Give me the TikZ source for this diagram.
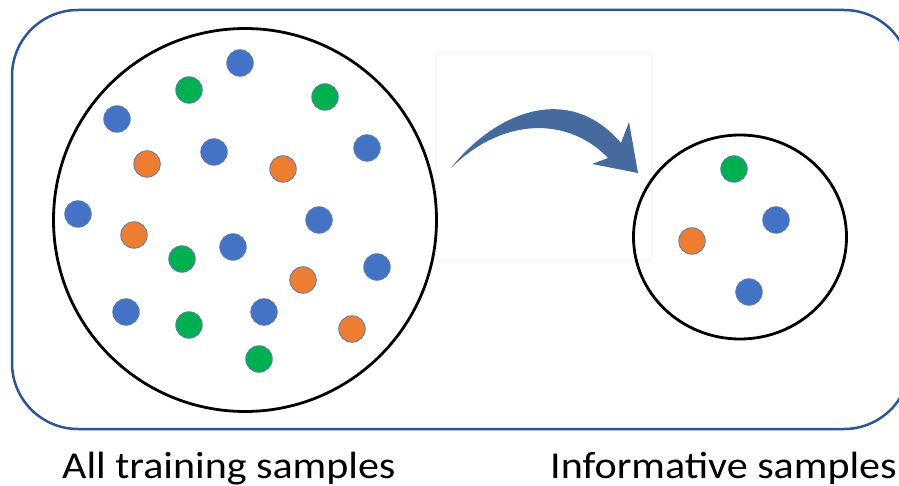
\documentclass[tikz,border=0pt]{standalone}
\usepackage{fontspec}
\setmainfont{Carlito}
\newfontfamily\capfont[FakeStretch=1.107]{Carlito}
\usetikzlibrary{shapes.geometric}
\definecolor{frameblue}{HTML}{2F5597}
\definecolor{dotblue}{HTML}{4472C4}
\definecolor{dotorange}{HTML}{ED7D31}
\definecolor{dotgreen}{HTML}{00B050}
\definecolor{dotedge}{HTML}{5B7BAE}
\definecolor{arrowblue}{HTML}{446A9E}
\definecolor{faintgray}{HTML}{F5F5F5}
\tikzset{
  dot/.style={circle, draw=dotedge, line width=0.8pt, inner sep=0pt, minimum size=26.5pt},
  bdot/.style={dot, fill=dotblue},
  odot/.style={dot, fill=dotorange},
  gdot/.style={dot, fill=dotgreen},
  caption/.style={anchor=base west, font=\capfont\fontsize{38}{42}\selectfont, inner sep=0pt},
}
\begin{document}
\begin{tikzpicture}[x=1pt,y=-1pt]
\useasboundingbox (0,0) rectangle (899,486);
\clip (0,0) rectangle (899,486);
\fill[white] (0,0) rectangle (899,486);
% outer frame
\draw[frameblue, line width=2.5pt, rounded corners=66pt] (12,10) rectangle (910,429);
% faint picture frame behind arrow
\draw[faintgray, line width=0.8pt] (436,52) rectangle (651,260);
% big circle
\node (big) [draw, circle, line width=2.8pt, minimum size=383pt, inner sep=0pt] at (245,220) {};
% small circle
\node (small) [draw, ellipse, line width=2.8pt, minimum width=213pt, minimum height=204pt, inner sep=0pt] at (740,237) {};
% dots in big circle
\node (b1) [bdot] at (240,63) {};
\node (g1) [gdot] at (189,90) {};
\node (g2) [gdot] at (325,97) {};
\node (b2) [bdot] at (117,119) {};
\node (o1) [odot] at (147,164) {};
\node (b3) [bdot] at (214,152) {};
\node (o2) [odot] at (283,169) {};
\node (b4) [bdot] at (367,148) {};
\node (b5) [bdot] at (78,214) {};
\node (b6) [bdot] at (319,220) {};
\node (o3) [odot] at (134,235) {};
\node (b7) [bdot] at (233,247) {};
\node (g3) [gdot] at (182,259) {};
\node (b8) [bdot] at (377,267) {};
\node (o4) [odot] at (303,280) {};
\node (b9) [bdot] at (126,312) {};
\node (g4) [gdot] at (189,325) {};
\node (b10) [bdot] at (264,312) {};
\node (o5) [odot] at (352,329) {};
\node (g5) [gdot] at (259,359) {};
% dots in small circle
\node (sg) [gdot] at (734,169) {};
\node (sb1) [bdot] at (776,220) {};
\node (so) [odot] at (692,241) {};
\node (sb2) [bdot] at (749,292) {};
% curved arrow
\fill[arrowblue] (451,168) .. controls (490,118) and (565,78) .. (621,143)
  -- (629,122) -- (638,173) -- (592,164) -- (608,158)
  .. controls (570,118) and (505,115) .. (451,168) -- cycle;
% captions
\node (cap1) [caption] at (62,478) {All training samples};
\node (cap2) [caption] at (550,478) {Informative samples};
\end{tikzpicture}
\end{document}
